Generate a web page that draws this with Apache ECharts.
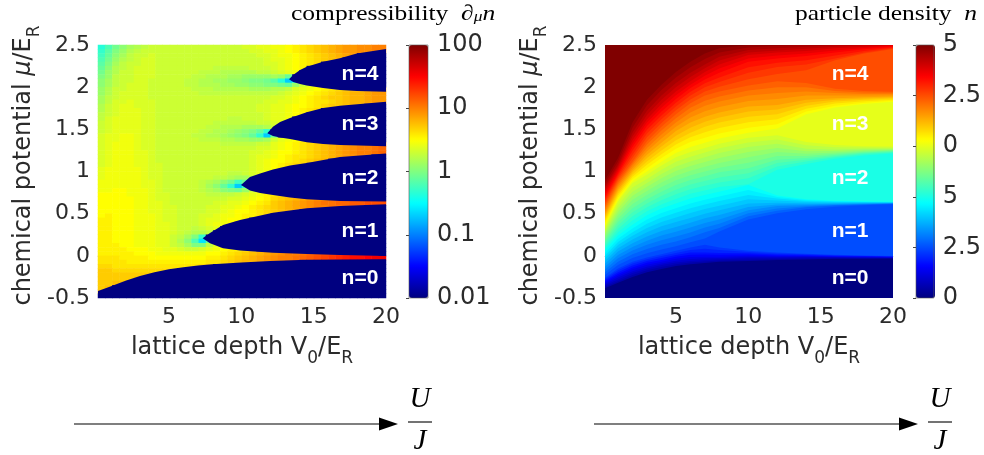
<!DOCTYPE html>
<html><head><meta charset="utf-8">
<style>html,body{margin:0;padding:0;background:#fff}#c{width:984px;height:455px}</style>
<script src="https://cdn.jsdelivr.net/npm/echarts@6/dist/echarts.min.js"></script>
</head><body><div id="c"></div>
<script>
const N = -20; // tenths of a decade: -20 means compressibility 0.01 (incompressible)
// --- left panel: compressibility in tenths of a decade. One row per mu, top row first;
// a row stops where it runs into a lobe, the remaining cells of the row are incompressible.
const chiV0 = [0.35,0.85,1.35,1.85,2.35,2.85,3.35,3.85,4.35,4.85,5.35,5.85,6.35,6.85,7.35,7.85,8.35,8.85,9.35,9.85,10.35,10.85,11.35,11.85,12.35,12.85,13.35,13.85,14.35,14.85,15.35,15.85,16.35,16.85,17.35,17.85,18.35,18.85,19.35,19.85];
const chiMu = [2.475,2.425,2.375,2.325,2.275,2.225,2.175,2.125,2.075,2.025,1.975,1.925,1.875,1.825,1.775,1.725,1.675,1.625,1.575,1.525,1.475,1.425,1.375,1.325,1.275,1.225,1.175,1.125,1.075,1.025,0.975,0.925,0.875,0.825,0.775,0.725,0.675,0.625,0.575,0.525,0.475,0.425,0.375,0.325,0.275,0.225,0.175,0.125,0.075,0.025,-0.025,-0.075,-0.125,-0.175,-0.225,-0.275,-0.325,-0.375,-0.425,-0.475];
const chiRows = [
[-3.5,-2,-.5,.5,1.5,2,2.5,3,3,3,3,3,3,3,3,3,3,3,3,3,3.5,3.5,4,4,4.5,4.5,5,5.5,6,6.5,7,7.5,8,8.5,9,9,9.5,9.5,10,10],
[-3,-1.5,0,1,2,2.5,3,3,3,3,3,3,3,3,3,3,3,3,3,3,3,3.5,3.5,4,4,4.5,5,5.5,6,6.5,7,7.5,8,8.5,9,9,9.5,9.5,10,10],
[-2.5,-1,.5,1.5,2.5,3,3,3.5,3,3,3,3,3,3,3,3,3,3,3,3,3,3,3.5,3.5,4,4.5,4.5,5,5.5,6,6.5,7,7.5,8,8.5,9],
[-2,-.5,1,2,2.5,3,3.5,3.5,3,3,3,3,3,3,3,3,3,3,3,3,3,3,3,3.5,4,4,4.5,5,5.5,6,6.5,7,7.5,8],
[-1.5,0,1.5,2.5,3,3,3.5,3.5,3,3,3,3,3,3,3,3,3,3,3,3,3,3,3,3.5,3.5,4,4.5,5,5.5,6,6.5],
[-1,.5,2,2.5,3,3.5,3.5,3.5,3,3,3,3,3,3,3,3,2.5,2.5,2.5,2.5,2.5,3,3,3,3.5,4,4.5,5,5.5],
[-.5,1,2,3,3,3.5,3.5,3.5,3,3,3,3,3,3,2.5,2.5,2.5,2,2,2,2,2,2.5,2.5,3,3.5,4,4.5],
[0,1,2.5,3,3,3.5,3.5,3.5,3,3,3,3,3,2.5,2.5,2,2,2,1.5,1.5,1,1,1,1,1.5,1,-1],
[.5,1.5,2.5,3,3,3.5,3.5,3,3,3,3,3,2.5,2.5,2,2,1.5,1.5,1,1,.5,0,0,-.5,-1.5,-3.5,-7,-5],
[.5,1.5,2.5,3,3.5,3.5,3.5,3,3,3,3,3,2.5,2.5,2,2,2,1.5,1.5,1,1,.5,.5,0,0,-.5,-1,1,3,4,4.5],
[1,2,3,3,3.5,3.5,3.5,3,3,3,3,3,3,2.5,2.5,2.5,2,2,2,2,2,1.5,1.5,1.5,2,2,2.5,3.5,4,4.5,5,5.5,6,6.5,7,7.5,8,8,8.5,9],
[1,2,3,3.5,3.5,3.5,3.5,3,3,3,3,3,3,3,2.5,2.5,2.5,2.5,2.5,2.5,2.5,2.5,2.5,2.5,2.5,3,3.5,4,4.5,5,5.5,6,6.5,7,7.5,8,8,8.5,9,9],
[1.5,2.5,3,3.5,3.5,3.5,3.5,3,3,3,3,3,3,3,3,3,3,3,3,3,3,3,3,3,3.5,3.5,4,4.5,5,5.5,6,6.5,7,7,7.5,8,8,8.5,9,9],
[1.5,2.5,3.5,3.5,4,3.5,3.5,3.5,3,3,3,3,3,3,3,3,3,3,3,3,3,3,3,3.5,3.5,4,4,4.5,5,5.5,6,6,6.5,7,7.5,8,8,8.5,9,9],
[2,3,3.5,4,4,3.5,3.5,3.5,3,3,3,3,3,3,3,3,3,3,3,3,3,3,3.5,3.5,4,4,4.5,5,5,5.5,6,6.5,7,7,7.5,8,8],
[2,3,3.5,4,4,4,3.5,3.5,3,3,3,3,3,3,3,3,3,3,3,3,3,3,3.5,3.5,4,4,4.5,5,5.5,6,6.5],
[2.5,3,3.5,4,4,4,3.5,3.5,3,3,3,3,3,3,3,3,3,3,3,3,3,3,3,3.5,4,4,4.5,5,5.5],
[2.5,3.5,4,4,4,4,3.5,3.5,3,3,3,3,3,3,3,3,3,3,2.5,2.5,3,3,3,3.5,4,4,4.5],
[3,3.5,4,4,4,4,3.5,3.5,3,3,3,3,3,3,3,3,2.5,2.5,2.5,2.5,2.5,2.5,3,3,3.5,4],
[3,3.5,4,4,4,4,3.5,3.5,3,3,3,3,3,3,3,2.5,2.5,2,2,2,1.5,1.5,1.5,2,3],
[3,3.5,4,4,4,4,3.5,3.5,3,3,3,3,3,3,2.5,2.5,2,2,1.5,1,.5,0,-1,-3],
[3.5,4,4,4.5,4.5,4,3.5,3.5,3,3,3,3,3,2.5,2.5,2,2,1.5,1,.5,0,-1,-3,-7,-1],
[3.5,4,4,4.5,4.5,4,3.5,3.5,3,3,3,3,3,3,2.5,2.5,2.5,2,2,1.5,1.5,1,1,1.5,3,4,4.5,5,5.5],
[3.5,4,4.5,4.5,4.5,4,3.5,3.5,3,3,3,3,3,3,3,3,3,2.5,2.5,2.5,2.5,2.5,3,3,4,4.5,5,5.5,6,6.5,7,7.5,8,8.5,9,9,9.5,10,10,10],
[3.5,4,4.5,4.5,4.5,4,3.5,3.5,3,3,3,3,3,3,3,3,3,3,3,3,3,3,3.5,3.5,4,4.5,5,5.5,6,6.5,7,7.5,8,8.5,9,9.5,10,10,10.5,11],
[3.5,4,4.5,4.5,4.5,4,4,3.5,3,3,3,3,3,3,3,3,3,3,3,3,3,3.5,3.5,4,4.5,5,5,5.5,6,6.5,7,7.5,8,8.5,9,9.5,10,10,10.5,11],
[3.5,4,4.5,4.5,4.5,4,4,3.5,3,3,3,3,3,3,3,3,3,3,3,3,3,3.5,4,4,4.5,5,5.5,6,6,6.5,7,7.5,8,8.5,9,9.5,10,10],
[3.5,4,4.5,4.5,4.5,4,4,3.5,3,3,3,3,3,3,3,3,3,3,3,3,3,3.5,4,4.5,5,5,5.5,6,6.5,7,7.5,8],
[3.5,4,4.5,4.5,4.5,4,4,3.5,3.5,3,3,3,3,3,3,3,3,3,3,3,3,3.5,4,4.5,5,5.5,6,6.5,7],
[4,4.5,4.5,4.5,4.5,4.5,4,3.5,3.5,3,3,3,3,3,3,3,3,3,3,3,3,3.5,4,4.5,5,5.5],
[4,4.5,4.5,4.5,4.5,4.5,4,3.5,3.5,3,3,3,3,3,3,3,3,3,2.5,2.5,3,3.5,4,4.5],
[4,4.5,4.5,4.5,4.5,4.5,4,3.5,3.5,3,3,3,3,3,3,3,2.5,2.5,2,1.5,1.5,2.5],
[4.5,4.5,4.5,4.5,4.5,4.5,4,4,3.5,3,3,3,3,3,2.5,2,1.5,.5,-.5,-2.5,-1],
[4.5,4.5,4.5,4.5,4.5,4.5,4,4,3.5,3,3,3,3,3,2.5,1.5,.5,-1,-3,-7,-3],
[4.5,4.5,5,5,4.5,4.5,4.5,4,3.5,3,3,3,3,3,2.5,2,1.5,.5,0,-.5,1,3,4],
[5,5,5,5,4.5,4.5,4.5,4,3.5,3.5,3,3,3,3,3,2.5,2.5,2.5,2.5,3,3.5,4,4.5,5.5,6,6.5,7],
[5,5,5,5,5,4.5,4.5,4,3.5,3.5,3,3,3,3,3,3,3,3,3.5,3.5,4,4.5,5,5.5,6.5,7,7.5,8,8.5,9,9.5,9.5,10,10],
[5,5,5,5,5,4.5,4.5,4,4,3.5,3,3,3,3,3,3,3.5,3.5,4,4,4.5,5,5.5,6,7,7.5,8,8.5,9,9.5,10,10.5,10.5,11,11,11.5,11.5,12,12,12],
[5,5,5,5,5,4.5,4.5,4,4,3.5,3.5,3,3,3,3,3.5,3.5,4,4,4.5,5,5.5,6,6.5,7,7.5,8,8.5,9,9.5,10,10,10.5,10.5,11,11,11.5],
[5,5,5,5,5,4.5,4.5,4,4,3.5,3.5,3,3,3,3,3.5,3.5,4,4.5,5,5,5.5,6,6.5,7,7.5,8,8.5],
[5,5.5,5,5,5,4.5,4.5,4.5,4,3.5,3.5,3,3,3,3.5,3.5,4,4.5,4.5,5,5.5,5.5,6,6.5],
[5.5,5.5,5,5,5,4.5,4.5,4.5,4,3.5,3.5,3,3,3,3.5,4,4,4.5,5,5,5.5],
[5.5,5.5,5,5,5,4.5,4.5,4.5,4,4,3.5,3,3,3,3.5,4,4.5,4.5,5],
[5.5,5.5,5,5,5,4.5,4.5,4.5,4,4,3.5,3,3,2.5,3,3.5,4],
[5.5,5.5,5,5,5,4.5,4.5,4.5,4,4,3.5,3,2.5,2,2,2.5],
[5.5,5.5,5,5,5,4.5,4.5,4.5,4,4,3,2.5,1.5,0,-3],
[5.5,5.5,5,5,5,4.5,4.5,4.5,4,4,3,2,.5,-2,-6,-1],
[5.5,5.5,5.5,5,5,4.5,4.5,4.5,4,4,3,2.5,1.5,0,0,2.5,4],
[5.5,5.5,5.5,5.5,5,5,5,4.5,4.5,4,4,3.5,3,3,3.5,4,4.5,5,5.5,5.5,6,6.5],
[5.5,5.5,5.5,5.5,5.5,5,5,5,4.5,4.5,4.5,4.5,4.5,4.5,4.5,5,5,5.5,6,6.5,7,7.5,8,8.5,9,9.5,10,10,10.5,11,11.5,12,12.5,13,13.5,14,14,14.5,15],
[6,6,6,5.5,5.5,5.5,5.5,5,5,5,5,5,5,5,5,5.5,5.5,6,6.5,7,7.5,8,8.5,9,9.5,10,10,10.5,11,11.5,12,12.5,13,13.5,14,14.5,14.5,15,15.5,15.5],
[6,6,6,6,5.5,5.5,5.5,5.5,5.5,5.5,5.5,5.5,5.5,5.5,5.5,6,6,6.5,7,7.5,8,8,8.5,9,9.5,9.5,10,10.5],
[6.5,6.5,6,6,6,6,6,6,6,6,6,6,6,6,6.5,7],
[7,7,6.5,6.5,6.5,6.5,6.5,6.5,6.5,6.5,6.5],
[7,7,7,7,7,7,7,7],
[7,7,7,7,7,7.5],
[7,7,7.5,7.5],
[7,7.5],
[7.5],
[]
];
// Mott lobe outlines
const lobe1V=[7.33,7.84,8.74,9.91,12.19,14.52,16.82,20];
const lobe1High=[.208,.271,.366,.425,.511,.564,.591,.611];
const lobe1Low=[.208,.149,.089,.063,.037,.022,.01,-.002];
const lobe2V=[9.98,10.6,11.3,12.19,13.37,14.52,16.82,20];
const lobe2High=[.84,.935,.976,1.024,1.071,1.101,1.172,1.213];
const lobe2Low=[.84,.775,.745,.721,.692,.67,.65,.644];
const lobe3V=[11.8,12.19,12.68,13.37,14.52,15.65,16.82,20];
const lobe3High=[1.453,1.531,1.587,1.634,1.702,1.753,1.78,1.828];
const lobe3Low=[1.453,1.421,1.403,1.385,1.346,1.326,1.314,1.299];
const lobe4V=[13.3,13.58,14.06,14.52,15.65,16.82,17.98,20];
const lobe4High=[2.093,2.144,2.204,2.243,2.302,2.342,2.399,2.453];
const lobe4Low=[2.093,2.061,2.038,2.02,1.99,1.967,1.955,1.946];
const vacV=[.1,1,2,3,4,5,6,7,8,10,12,14,16,18,20];
const vacTop=[-.417,-.36,-.295,-.24,-.195,-.16,-.135,-.115,-.1,-.078,-.062,-.05,-.045,-.042,-.04];
// --- right panel: chemical potential at which the density reaches each level, at each lattice depth
const isoV0=[.1,1,2,3,4,5,6,7,8,10,12,14,16,18,20];
const isoLevels=[0,.2,.3,.4,.5,.6,.7,.8,.9,1,1.1,1.2,1.3,1.4,1.5,1.6,1.7,1.8,1.9,2,2.1,2.2,2.3,2.4,2.5,2.6,2.7,2.8,2.9,3,3.1,3.2,3.3,3.4,3.5,3.6,3.7,3.8,3.9,4,4.1,4.2,4.3,4.4,4.5,4.6,4.7,4.8,4.9,5];
const isoMu=[
[-.5,-.5,-.5,-.5,-.5,-.5,-.5,-.5,-.5,-.5,-.5,-.5,-.5,-.5,-.5],
[-.385,-.32,-.25,-.195,-.155,-.12,-.1,-.085,-.07,-.06,-.05,-.042,-.036,-.034,-.032],
[-.368,-.3,-.228,-.172,-.132,-.1,-.08,-.068,-.055,-.045,-.038,-.031,-.028,-.028,-.028],
[-.35,-.28,-.205,-.15,-.11,-.08,-.06,-.05,-.04,-.03,-.025,-.02,-.02,-.022,-.024],
[-.335,-.258,-.182,-.128,-.09,-.058,-.038,-.03,-.025,-.015,-.015,-.012,-.015,-.017,-.02],
[-.32,-.235,-.16,-.105,-.07,-.035,-.015,-.01,-.01,0,-.005,-.005,-.01,-.012,-.016],
[-.305,-.215,-.138,-.082,-.048,-.012,.012,.015,.012,.015,.005,.002,-.005,-.007,-.012],
[-.29,-.195,-.115,-.06,-.025,.01,.04,.04,.035,.03,.015,.01,0,-.002,-.008],
[-.275,-.172,-.092,-.04,-.002,.035,.07,.085,.068,.045,.028,.018,.006,.002,-.005],
[-.26,-.15,-.07,-.02,.02,.06,.1,.13,.1,.06,.04,.025,.012,.005,-.002],
[-.228,-.11,-.025,.03,.075,.115,.16,.205,.29,.43,.505,.553,.582,.6,.611],
[-.195,-.07,.02,.08,.13,.17,.22,.28,.33,.47,.535,.575,.596,.608,.617],
[-.162,-.03,.062,.13,.185,.228,.278,.335,.38,.505,.562,.588,.603,.612,.62],
[-.13,.01,.105,.18,.24,.285,.335,.39,.43,.54,.59,.6,.61,.617,.623],
[-.095,.05,.15,.23,.295,.342,.392,.445,.485,.58,.61,.612,.618,.622,.626],
[-.06,.09,.195,.28,.35,.4,.45,.5,.54,.62,.63,.625,.625,.627,.63],
[-.03,.128,.238,.33,.402,.455,.508,.555,.595,.67,.655,.638,.632,.632,.633],
[0,.165,.28,.38,.455,.51,.565,.61,.65,.72,.68,.65,.64,.637,.636],
[.035,.202,.325,.43,.508,.565,.622,.665,.705,.78,.698,.661,.646,.641,.639],
[.07,.24,.37,.48,.56,.62,.68,.72,.76,.84,.715,.672,.653,.646,.642],
[.095,.28,.42,.528,.61,.675,.735,.775,.815,.85,1.02,1.09,1.15,1.19,1.213],
[.12,.32,.47,.575,.66,.73,.79,.83,.87,.92,1.06,1.12,1.17,1.205,1.225],
[.148,.36,.518,.622,.71,.785,.845,.888,.93,.98,1.1,1.14,1.182,1.215,1.232],
[.175,.4,.565,.67,.76,.84,.9,.945,.99,1.04,1.14,1.16,1.195,1.225,1.24],
[.202,.44,.615,.72,.815,.895,.955,1,1.045,1.105,1.185,1.185,1.21,1.235,1.248],
[.23,.48,.665,.77,.87,.95,1.01,1.055,1.1,1.17,1.23,1.21,1.225,1.245,1.255],
[.255,.52,.712,.818,.92,1.005,1.065,1.112,1.16,1.23,1.28,1.24,1.242,1.258,1.262],
[.28,.56,.76,.865,.97,1.06,1.12,1.17,1.22,1.29,1.33,1.27,1.26,1.27,1.27],
[.305,.6,.81,.912,1.02,1.115,1.175,1.225,1.275,1.345,1.38,1.31,1.288,1.285,1.282],
[.33,.64,.86,.96,1.07,1.17,1.23,1.28,1.33,1.4,1.43,1.35,1.315,1.3,1.295],
[.358,.665,.885,1,1.115,1.22,1.29,1.34,1.39,1.46,1.51,1.68,1.76,1.8,1.828],
[.385,.69,.91,1.04,1.16,1.27,1.35,1.4,1.45,1.52,1.56,1.71,1.78,1.815,1.84],
[.412,.715,.938,1.08,1.205,1.32,1.405,1.465,1.515,1.585,1.62,1.745,1.805,1.832,1.852],
[.44,.74,.965,1.12,1.25,1.37,1.46,1.53,1.58,1.65,1.68,1.78,1.83,1.85,1.865],
[.465,.765,.99,1.16,1.295,1.425,1.52,1.59,1.64,1.71,1.735,1.815,1.85,1.865,1.878],
[.49,.79,1.015,1.2,1.34,1.48,1.58,1.65,1.7,1.77,1.79,1.85,1.87,1.88,1.89],
[.518,.815,1.042,1.24,1.39,1.53,1.64,1.715,1.765,1.835,1.86,1.9,1.9,1.9,1.905],
[.545,.84,1.07,1.28,1.44,1.58,1.7,1.78,1.83,1.9,1.93,1.95,1.93,1.92,1.92],
[.572,.865,1.095,1.32,1.485,1.63,1.755,1.84,1.89,1.96,2,2,1.955,1.938,1.933],
[.6,.89,1.12,1.36,1.53,1.68,1.81,1.9,1.95,2.02,2.07,2.05,1.98,1.955,1.946],
[.628,.912,1.16,1.405,1.575,1.725,1.855,1.95,2.005,2.095,2.155,2.2,2.32,2.4,2.453],
[.655,.935,1.2,1.45,1.62,1.77,1.9,2,2.06,2.17,2.24,2.27,2.34,2.41,2.46],
[.682,.958,1.245,1.495,1.665,1.815,1.945,2.045,2.115,2.235,2.29,2.32,2.375,2.43,2.47],
[.71,.98,1.29,1.54,1.71,1.86,1.99,2.09,2.17,2.3,2.34,2.37,2.41,2.45,2.48],
[.74,1.005,1.33,1.58,1.755,1.905,2.03,2.135,2.22,2.34,2.375,2.4,2.435,2.465,2.49],
[.77,1.03,1.37,1.62,1.8,1.95,2.07,2.18,2.27,2.38,2.41,2.43,2.46,2.48,2.5],
[.798,1.055,1.415,1.67,1.85,2,2.12,2.225,2.315,2.41,2.435,2.455,2.48,2.5,2.52],
[.825,1.08,1.46,1.72,1.9,2.05,2.17,2.27,2.36,2.44,2.46,2.48,2.5,2.52,2.54],
[.862,1.12,1.52,1.785,1.965,2.115,2.235,2.335,2.41,2.47,2.49,2.505,2.525,2.545,2.57],
[.9,1.16,1.58,1.85,2.03,2.18,2.3,2.4,2.46,2.5,2.52,2.53,2.55,2.57,2.6]
];
// --- annotations and tick labels
const regionNames=['n=0','n=1','n=2','n=3','n=4'];
const regionMu=[-.263,.294,.923,1.563,2.156];
const chiTicks=['0.01','0.1','1','10','100'];
const densityTicks=['0','2.5','5','0','2.5','5'];
const depthTicks=[5,10,15,20];

const jet=['#000080','#0000ff','#0080ff','#00ffff','#80ff80','#ffff00','#ff8000','#ff0000','#800000'];
const ink='#2b2b2b', sans='"DejaVu Sans"', serif='"Liberation Serif"';
const P={L:{l:98,r:386,cb:409,cbr:428},R:{l:605,r:893,cb:916,cbr:935}}, plotTop=45, plotBot=298;

const nameRich={g:{width:12,fontSize:10},m:{fontSize:24,fontFamily:sans,color:ink},u:{fontSize:24,fontFamily:sans,fontStyle:'italic',color:ink},
  s:{fontSize:17,fontFamily:sans,color:ink,verticalAlign:'bottom',padding:[22,0,0,0]}};
function valueAxes(){return {
 x:{type:'value',min:.1,max:20,splitLine:{show:false},axisTick:{show:false},
    axisLine:{show:true,lineStyle:{color:'#c4c8d4',width:1}},
    axisLabel:{customValues:depthTicks,fontSize:22,fontFamily:sans,color:ink,margin:8},
    name:'{m|lattice depth V}{s|0}{m|/E}{s|R}',nameLocation:'middle',nameGap:30,nameTextStyle:{rich:nameRich}},
 y:{type:'value',min:-.5,max:2.5,interval:.5,splitLine:{show:false},axisTick:{show:false},axisLine:{show:false},
    axisLabel:{fontSize:22,fontFamily:sans,color:ink,margin:8},
    name:'{g| }{m|chemical potential }{u|μ}{m|/E}{s|R}',nameLocation:'middle',nameGap:53,nameTextStyle:{rich:nameRich}}
};}
const aL=valueAxes(), aR=valueAxes();
const hidden={show:false};
function cbAxisY(min,max,interval,labels){return {type:'value',position:'right',min,max,interval,splitLine:hidden,
   axisLine:{show:false},axisTick:{show:true,inside:true,length:3,lineStyle:{color:'#444',width:1}},
   axisLabel:{fontSize:24,fontFamily:sans,color:ink,margin:9,formatter:(v)=>labels[Math.round((v-min)/interval)]}};}

const grids=[
 {left:P.L.l,width:P.L.r-P.L.l,top:plotTop,height:plotBot-plotTop},
 {left:P.L.l,width:P.L.r-P.L.l,top:plotTop,height:plotBot-plotTop},
 {left:P.R.l,width:P.R.r-P.R.l,top:plotTop,height:plotBot-plotTop},
 {left:P.L.cb,width:P.L.cbr-P.L.cb,top:plotTop,height:plotBot-plotTop,show:true,borderColor:'#555',borderWidth:.6,z:5},
 {left:P.R.cb,width:P.R.cbr-P.R.cb,top:plotTop,height:plotBot-plotTop,show:true,borderColor:'#555',borderWidth:.6,z:5}
];
const heat=[];
chiRows.forEach((row,r)=>chiV0.forEach((_,c)=>heat.push([c,chiMu.length-1-r,c<row.length?row[c]:N])));

const lobes=[[vacV,vacTop,null],[lobe1V,lobe1High,lobe1Low],[lobe2V,lobe2High,lobe2Low],[lobe3V,lobe3High,lobe3Low],[lobe4V,lobe4High,lobe4Low]];
function lobeItem(params,api){
 const [V,hi,lo]=lobes[params.dataIndex];
 const pts=V.map((v,i)=>api.coord([v,hi[i]]));
 if(lo){for(let i=V.length-1;i>0;i--)pts.push(api.coord([V[i],lo[i]]));}
 else{pts.push(api.coord([20,-.5]));pts.push(api.coord([.1,-.5]));}
 return {type:'polygon',shape:{points:pts},style:{fill:api.visual('color')}};
}
function isoItem(params,api){
 const mu=isoMu[params.dataIndex];
 const pts=isoV0.map((v,i)=>api.coord([v,mu[i]]));
 pts.push(api.coord([20,2.7]));pts.push(api.coord([.1,2.7]));
 return {type:'polygon',shape:{points:pts},style:{fill:api.visual('color')}};
}
function labelSeries(xi,v0){return {type:'scatter',xAxisIndex:xi,yAxisIndex:xi,symbolSize:0,silent:true,z:6,itemStyle:{opacity:1},
  data:regionMu.map((m,i)=>({value:[v0,m],name:regionNames[i]})),
  label:{show:true,position:'inside',formatter:'{b}',color:'#fff',opacity:1,fontFamily:'"Liberation Sans"',fontWeight:'bold',fontSize:21}};}

function arrow(x0,x1){return [
 {type:'line',shape:{x1:x0,y1:424,x2:x1-14,y2:424},style:{stroke:'#000',lineWidth:1.2}},
 {type:'polygon',shape:{points:[[x1,424],[x1-19,417.5],[x1-19,430.5]]},style:{fill:'#000'}},
 {type:'line',shape:{x1:x1+10,y1:422,x2:x1+34,y2:422},style:{stroke:'#000',lineWidth:1.1}},
 {type:'text',x:x1+22,y:399,style:{text:'U',font:'italic 29px '+serif,fill:'#000',align:'center',verticalAlign:'middle'}},
 {type:'text',x:x1+22,y:441,style:{text:'J',font:'italic 29px '+serif,fill:'#000',align:'center',verticalAlign:'middle'}}
];}
const tRich={a:{fontFamily:serif,fontSize:22,color:'#111'},i:{fontFamily:serif,fontStyle:'italic',fontSize:22,color:'#111'},
  s:{fontFamily:serif,fontStyle:'italic',fontSize:15,color:'#111',verticalAlign:'bottom',padding:[6,0,0,0]}};

const option={
 animation:false,backgroundColor:'#fff',
 grid:grids,
 xAxis:[
  {type:'category',gridIndex:0,data:chiV0,show:false},
  Object.assign({gridIndex:1},aL.x),
  Object.assign({gridIndex:2},aR.x),
  {type:'value',gridIndex:3,min:0,max:1,show:false},
  {type:'value',gridIndex:4,min:0,max:1,show:false}
 ],
 yAxis:[
  {type:'category',gridIndex:0,data:chiMu.slice().reverse(),show:false},
  Object.assign({gridIndex:1},aL.y),
  Object.assign({gridIndex:2},aR.y),
  Object.assign({gridIndex:3},cbAxisY(-20,20,10,chiTicks)),
  Object.assign({gridIndex:4},cbAxisY(0,5,1,densityTicks))
 ],
 visualMap:[
  {type:'continuous',min:-20,max:20,seriesIndex:[0,1],dimension:2,left:P.L.cb,top:plotTop,itemWidth:P.L.cbr-P.L.cb,itemHeight:plotBot-plotTop,padding:0,calculable:false,text:null,showLabel:false,hoverLink:false,inRange:{color:jet},z:2},
  {type:'continuous',min:0,max:5,seriesIndex:[3],dimension:2,left:P.R.cb,top:plotTop,itemWidth:P.R.cbr-P.R.cb,itemHeight:plotBot-plotTop,padding:0,calculable:false,text:null,showLabel:false,hoverLink:false,inRange:{color:jet},z:2}
 ],
 series:[
  {type:'heatmap',xAxisIndex:0,yAxisIndex:0,data:heat,silent:true,itemStyle:{borderWidth:0},emphasis:{disabled:true},progressive:0},
  {type:'custom',xAxisIndex:1,yAxisIndex:1,clip:true,silent:true,z:3,renderItem:lobeItem,encode:{x:0,y:1},data:lobes.map(()=>[.1,-.5,N])},
  labelSeries(1,18.2),
  {type:'custom',xAxisIndex:2,yAxisIndex:2,clip:true,silent:true,renderItem:isoItem,encode:{x:0,y:1},data:isoLevels.map(n=>[.1,-.5,n])},
  labelSeries(2,17.03)
 ],
 graphic:[
  {type:'text',x:291,y:14,scaleX:1.16,style:{text:'{a|compressibility  }{i|∂}{s|μ}{i|n}',rich:tRich,align:'left',verticalAlign:'middle'}},
  {type:'text',x:795,y:14,scaleX:1.16,style:{text:'{a|particle density  }{i|n}',rich:tRich,align:'left',verticalAlign:'middle'}},
  ...arrow(74,398),...arrow(594,918)
 ]
};
const chart=echarts.init(document.getElementById('c'),null,{renderer:'canvas'});
chart.setOption(option);
</script></body></html>
